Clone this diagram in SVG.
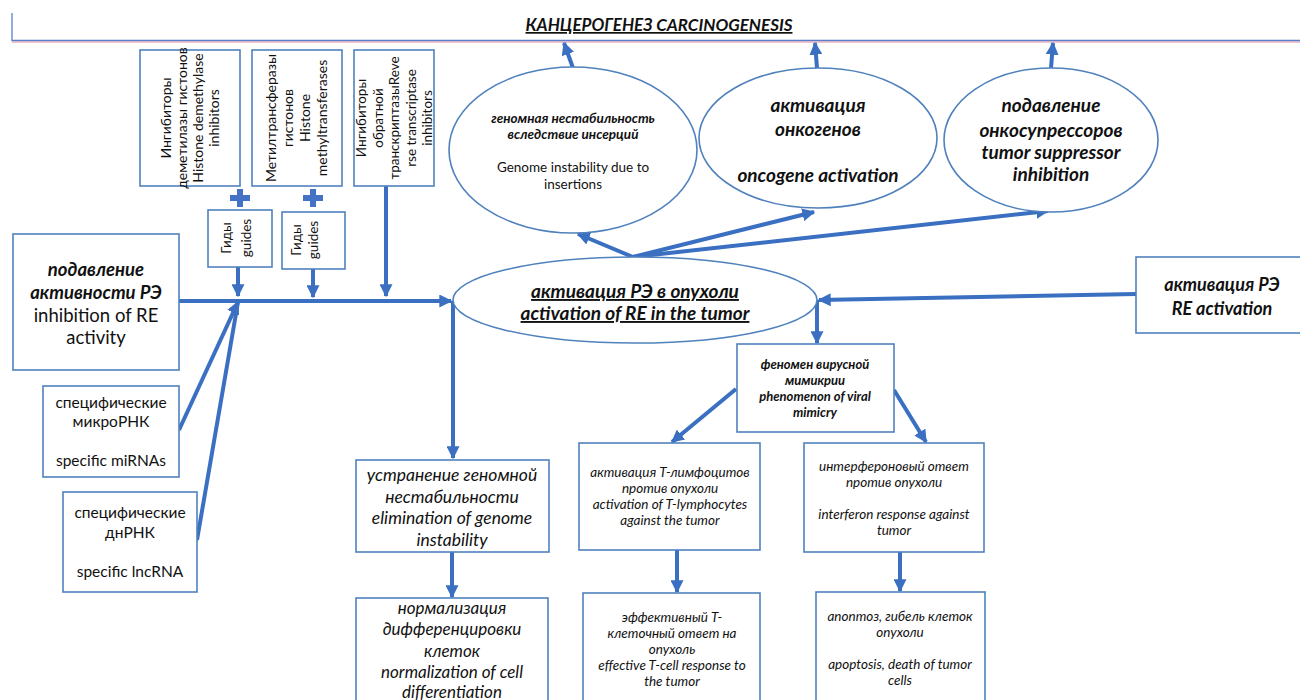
<svg xmlns="http://www.w3.org/2000/svg" width="1300" height="700" viewBox="0 0 1300 700">
<defs>
<marker id="ah" viewBox="0 0 10 10" refX="9" refY="5" markerWidth="13" markerHeight="13" markerUnits="userSpaceOnUse" orient="auto">
<path d="M0,0 L10,5 L0,10 z" fill="#3A6FC2"/>
</marker>
<style>
.box{fill:#fff;stroke:#4F81BD;stroke-width:1.6}
.t{font-family:Lato,"Open Sans","Noto Sans",sans-serif;fill:#111;text-anchor:middle}
.bi{font-weight:bold;font-style:italic}
.i{font-style:italic}
.c{fill:none;stroke:#3A6FC2;stroke-width:4}
.ca{fill:none;stroke:#3A6FC2;stroke-width:4;marker-end:url(#ah)}
.plus{fill:#4472C4}
</style>
</defs>
<rect width="1300" height="700" fill="#fff"/>

<g id="title">
<path d="M12,13 V40.5 H1300" fill="none" stroke="#5A7FC8" stroke-width="1.3"/>
<path d="M12,42 H1300" fill="none" stroke="#D98AA8" stroke-width="1.2"/>
<text class="t bi" x="659" y="31" font-size="17" text-decoration="underline">КАНЦЕРОГЕНЕЗ  CARCINOGENESIS</text>
</g>

<g id="connectors">
<path class="ca" d="M573,68 L564,43"/>
<path class="ca" d="M817,68 L815,43"/>
<path class="ca" d="M1051,68 L1053,43"/>
<path class="ca" d="M633,257 L578,234"/>
<path class="ca" d="M633,257 L814,212"/>
<path class="ca" d="M633,257 L1048,211"/>
<path class="ca" d="M179,301 L451,301"/>
<path class="ca" d="M238,267 L238,296"/>
<path class="ca" d="M313,269 L313,297"/>
<path class="ca" d="M386,186 L386,296"/>
<path class="ca" d="M179,430 L238,302"/>
<path class="c" d="M197,540 L238,302"/>
<path class="ca" d="M453,301 L453,458"/>
<path class="ca" d="M1136,294 L819,300"/>
<path class="ca" d="M817,300 L817,343"/>
<path class="ca" d="M736,389 L672,442"/>
<path class="ca" d="M894,390 L926,442"/>
<path class="ca" d="M677,550 L677,592"/>
<path class="ca" d="M900,552 L900,591"/>
<path class="ca" d="M452,552 L452,597"/>
</g>

<g id="plus1"><path class="plus" d="M237,189 h6 v6 h7 v6 h-7 v6 h-6 v-6 h-7 v-6 h7 z"/></g>
<g id="plus2"><path class="plus" d="M310,189 h6 v6 h7 v6 h-7 v6 h-6 v-6 h-7 v-6 h7 z"/></g>

<g id="histone-demethylase">
<rect class="box" x="140" y="50" width="100" height="136"/>
<g transform="translate(190,118) rotate(-90)">
<text class="t" font-size="14" x="0" y="-19">Ингибиторы</text>
<text class="t" font-size="14" x="0" y="-3">деметилазы гистонов</text>
<text class="t" font-size="14" x="0" y="13">Histone demethylase</text>
<text class="t" font-size="14" x="0" y="29">inhibitors</text>
</g>
</g>

<g id="histone-methyltransferases">
<rect class="box" x="252" y="50" width="90" height="136"/>
<g transform="translate(297,118) rotate(-90)">
<text class="t" font-size="14" x="0" y="-21">Метилтрансферазы</text>
<text class="t" font-size="14" x="0" y="-4">гистонов</text>
<text class="t" font-size="14" x="0" y="13">Histone</text>
<text class="t" font-size="14" x="0" y="30">methyltransferases</text>
</g>
</g>

<g id="rt-inhibitors">
<rect class="box" x="354" y="50" width="80" height="136"/>
<g transform="translate(394,118) rotate(-90)">
<text class="t" font-size="13.5" x="0" y="-28">Ингибиторы</text>
<text class="t" font-size="13.5" x="0" y="-11.5">обратной</text>
<text class="t" font-size="13.5" x="0" y="5">транскриптазыReve</text>
<text class="t" font-size="13.5" x="0" y="21.5">rse transcriptase</text>
<text class="t" font-size="13.5" x="0" y="38">inhibitors</text>
</g>
</g>

<g id="guides1">
<rect class="box" x="208" y="210" width="64" height="57"/>
<g transform="translate(240,238) rotate(-90)">
<text class="t" font-size="13.5" x="0" y="-9">Гиды</text>
<text class="t" font-size="13.5" x="0" y="11">guides</text>
</g>
</g>

<g id="guides2">
<rect class="box" x="282" y="212" width="63" height="57"/>
<g transform="translate(313,240) rotate(-90)">
<text class="t" font-size="13.5" x="0" y="-12">Гиды</text>
<text class="t" font-size="13.5" x="0" y="5">guides</text>
</g>
</g>

<g id="re-inhibition">
<rect class="box" x="13" y="234" width="166" height="136"/>
<text class="t bi" font-size="18.5" x="96" y="276">подавление</text>
<text class="t bi" font-size="18.5" x="96" y="299">активности РЭ</text>
<text class="t" font-size="18.5" x="96" y="322">inhibition of RE</text>
<text class="t" font-size="18.5" x="96" y="344">activity</text>
</g>

<g id="mirna">
<rect class="box" x="43" y="386" width="136" height="91"/>
<text class="t" font-size="15.5" x="111" y="408">специфические</text>
<text class="t" font-size="15.5" x="111" y="427">микроРНК</text>
<text class="t" font-size="15.5" x="111" y="466">specific miRNAs</text>
</g>

<g id="lncrna">
<rect class="box" x="63" y="492" width="134" height="100"/>
<text class="t" font-size="15.5" x="130" y="518">специфические</text>
<text class="t" font-size="15.5" x="130" y="538">днРНК</text>
<text class="t" font-size="15.5" x="130" y="577">specific lncRNA</text>
</g>

<g id="genome-instability">
<ellipse class="box" cx="573" cy="150" rx="124" ry="83"/>
<text class="t bi" font-size="13.5" x="573" y="123">геномная нестабильность</text>
<text class="t bi" font-size="13.5" x="573" y="139">вследствие инсерций</text>
<text class="t" font-size="13.5" x="573" y="172">Genome instability due to</text>
<text class="t" font-size="13.5" x="573" y="189">insertions</text>
</g>

<g id="oncogene">
<ellipse class="box" cx="818" cy="138" rx="119" ry="70"/>
<text class="t bi" font-size="19" x="818" y="112">активация</text>
<text class="t bi" font-size="19" x="818" y="136">онкогенов</text>
<text class="t bi" font-size="19" x="818" y="182">oncogene activation</text>
</g>

<g id="suppressor">
<ellipse class="box" cx="1051" cy="140" rx="107" ry="72"/>
<text class="t bi" font-size="19" x="1051" y="112">подавление</text>
<text class="t bi" font-size="19" x="1051" y="137">онкосупрессоров</text>
<text class="t bi" font-size="19" x="1051" y="159">tumor suppressor</text>
<text class="t bi" font-size="19" x="1051" y="181">inhibition</text>
</g>

<g id="re-activation-tumor">
<ellipse class="box" cx="635" cy="300" rx="182" ry="43"/>
<text class="t bi" font-size="19" x="635" y="298" text-decoration="underline">активация РЭ в опухоли</text>
<text class="t bi" font-size="19" x="635" y="320" text-decoration="underline">activation of RE in the tumor</text>
</g>

<g id="re-activation">
<rect class="box" x="1136" y="257" width="170" height="76"/>
<text class="t bi" font-size="18" x="1222" y="291">активация РЭ</text>
<text class="t bi" font-size="18" x="1222" y="315">RE activation</text>
</g>

<g id="viral-mimicry">
<rect class="box" x="737" y="344" width="157" height="88"/>
<text class="t bi" font-size="13" x="815" y="369">феномен вирусной</text>
<text class="t bi" font-size="13" x="815" y="385">мимикрии</text>
<text class="t bi" font-size="13" x="815" y="401">phenomenon of viral</text>
<text class="t bi" font-size="13" x="815" y="417">mimicry</text>
</g>

<g id="genome-elimination">
<rect class="box" x="356" y="460" width="193" height="92"/>
<text class="t i" font-size="17.5" x="452" y="481">устранение геномной</text>
<text class="t i" font-size="17.5" x="452" y="503">нестабильности</text>
<text class="t i" font-size="17.5" x="452" y="524">elimination  of genome</text>
<text class="t i" font-size="17.5" x="452" y="546">instability</text>
</g>

<g id="normalization">
<rect class="box" x="356" y="598" width="192" height="110"/>
<text class="t i" font-size="17" x="452" y="614">нормализация</text>
<text class="t i" font-size="17" x="452" y="635">дифференцировки</text>
<text class="t i" font-size="17" x="452" y="657">клеток</text>
<text class="t i" font-size="17" x="452" y="678">normalization of cell</text>
<text class="t i" font-size="17" x="452" y="698">differentiation</text>
</g>

<g id="t-lymphocytes">
<rect class="box" x="579" y="443" width="181" height="107"/>
<text class="t i" font-size="13.5" x="670" y="477">активация Т-лимфоцитов</text>
<text class="t i" font-size="13.5" x="670" y="493">против опухоли</text>
<text class="t i" font-size="13.5" x="670" y="509">activation of T-lymphocytes</text>
<text class="t i" font-size="13.5" x="670" y="525">against the tumor</text>
</g>

<g id="t-cell-response">
<rect class="box" x="583" y="593" width="177" height="115"/>
<text class="t i" font-size="13.5" x="672" y="622">эффективный Т-</text>
<text class="t i" font-size="13.5" x="672" y="638">клеточный ответ на</text>
<text class="t i" font-size="13.5" x="672" y="654">опухоль</text>
<text class="t i" font-size="13.5" x="672" y="670">effective T-cell response to</text>
<text class="t i" font-size="13.5" x="672" y="686">the tumor</text>
</g>

<g id="interferon">
<rect class="box" x="804" y="443" width="180" height="109"/>
<text class="t i" font-size="13.5" x="894" y="471">интерфероновый ответ</text>
<text class="t i" font-size="13.5" x="894" y="487">против опухоли</text>
<text class="t i" font-size="13.5" x="894" y="519">interferon response against</text>
<text class="t i" font-size="13.5" x="894" y="535">tumor</text>
</g>

<g id="apoptosis">
<rect class="box" x="816" y="592" width="169" height="116"/>
<text class="t i" font-size="13.5" x="900" y="621">апоптоз, гибель клеток</text>
<text class="t i" font-size="13.5" x="900" y="637">опухоли</text>
<text class="t i" font-size="13.5" x="900" y="669">apoptosis, death of tumor</text>
<text class="t i" font-size="13.5" x="900" y="685">cells</text>
</g>
</svg>
